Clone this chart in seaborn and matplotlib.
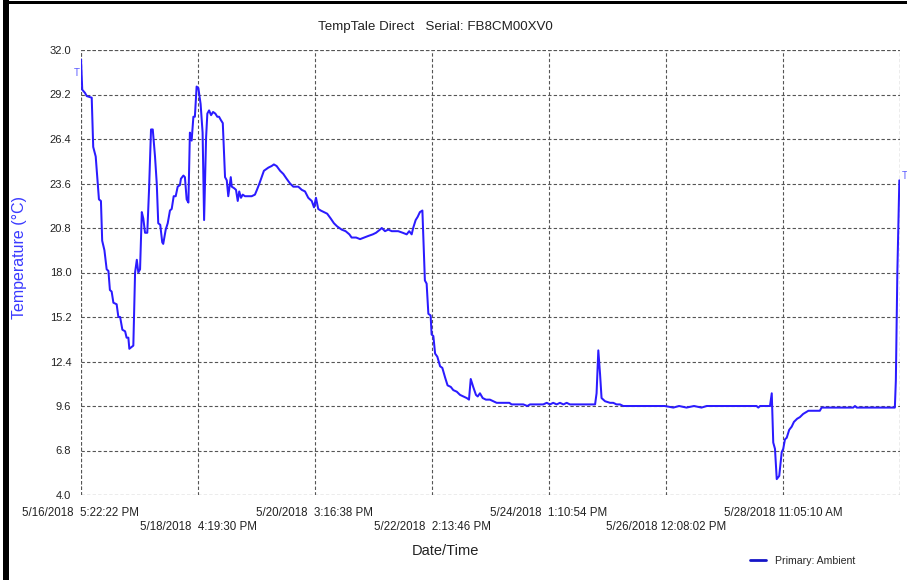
import matplotlib
matplotlib.use("Agg")
import matplotlib.pyplot as plt
import matplotlib.patches as mpatches
import seaborn as sns
import pandas as pd

# ---- data (hours since 5/16/2018 5:22:22 PM, temperature in °C) ----
hours = [0.0, 0.5, 1.6, 2.3, 4.3, 4.9, 5.9, 7.2, 8.0, 8.5, 9.4, 10.3, 11.0, 11.6, 12.3, 13.0, 14.3, 15.0, 15.7,
         16.6, 17.7, 18.3, 19.0, 19.4, 21.0, 21.7, 22.4, 23.0, 23.7, 24.4, 25.0, 25.7, 26.6, 27.3, 28.1, 28.8,
         29.7, 30.4, 31.0, 31.8, 32.6, 33.0, 34.0, 34.8, 35.7, 36.4, 37.2, 38.0, 38.8, 39.7, 40.1, 41.1, 41.7,
         42.4, 43.1, 43.7, 44.4, 45.1, 45.7, 46.4, 47.1, 48.0, 48.8, 49.4, 50.2, 50.7, 51.4, 52.2, 53.0, 53.9,
         54.7, 55.4, 56.1, 56.9, 57.8, 58.5, 59.1, 60.1, 60.5, 61.5, 62.2, 62.9, 63.5, 64.2, 64.9, 65.8, 67.1,
         68.5, 69.8, 70.6, 71.6, 72.5, 73.4, 75.2, 76.5, 77.4, 78.5, 79.9, 81.2, 82.5, 83.9, 85.2, 87.2, 88.6,
         89.9, 91.2, 92.6, 93.5, 94.3, 95.2, 96.2, 97.5, 98.8, 100.2, 101.5, 102.8, 104.6, 106.2, 107.7, 108.6,
         110.4, 112.0, 113.6, 115.3, 117.1, 118.4, 120.0, 120.7, 122.0, 123.3, 124.7, 126.0, 127.3, 129.1,
         130.7, 131.7, 132.7, 133.3, 134.3, 135.1, 136.0, 137.0, 138.0, 138.7, 139.4, 140.3, 140.7, 141.4,
         142.1, 143.0, 144.1, 145.0, 146.1, 147.1, 148.4, 149.4, 150.8, 152.1, 153.4, 154.8, 155.7, 156.4,
         157.4, 158.5, 159.2, 160.1, 161.2, 162.5, 164.1, 165.5, 166.8, 169.5, 171.9, 172.8, 177.5, 179.1,
         180.2, 185.5, 186.9, 188.2, 189.5, 190.9, 192.2, 193.6, 194.9, 196.2, 206.3, 206.9, 207.6, 208.3,
         208.9, 210.3, 212.3, 213.6, 214.9, 216.3, 217.6, 219.6, 234.3, 237.7, 240.0, 243.0, 246.0, 249.0,
         251.1, 271.1, 271.8, 272.5, 276.5, 277.2, 277.8, 278.5, 279.2, 280.2, 281.2, 281.8, 282.5, 283.2,
         284.2, 285.2, 286.1, 287.4, 288.5, 289.8, 291.9, 293.9, 296.5, 297.2, 309.9, 310.6, 311.3, 326.6,
         327.0, 327.6, 328.4]
temps = [31.4, 29.5, 29.3, 29.1, 29.0, 25.9, 25.3, 22.6, 22.5, 20.0, 19.4, 18.2, 18.1, 16.9, 16.8, 16.1, 16.0, 15.2, 15.2,
         14.4, 14.3, 13.9, 13.9, 13.2, 13.4, 18.0, 18.8, 18.0, 18.2, 21.8, 21.4, 20.5, 20.5, 23.2, 27.0, 27.0,
         25.3, 23.6, 21.1, 21.0, 19.9, 19.8, 20.7, 21.1, 21.9, 22.0, 22.8, 22.8, 23.4, 23.5, 23.9, 24.1, 24.0,
         22.6, 22.4, 26.8, 26.3, 27.8, 27.8, 29.7, 29.6, 28.6, 26.8, 21.3, 26.5, 28.0, 28.2, 27.9, 28.1, 28.0,
         27.8, 27.8, 27.6, 27.4, 24.0, 23.8, 22.8, 24.0, 23.4, 23.3, 23.2, 22.5, 23.1, 22.7, 22.9, 22.8, 22.8,
         22.8, 22.9, 23.2, 23.6, 24.0, 24.4, 24.6, 24.7, 24.8, 24.7, 24.4, 24.2, 23.9, 23.6, 23.4, 23.4, 23.2,
         23.1, 22.7, 22.5, 22.1, 22.7, 22.0, 21.9, 21.8, 21.7, 21.4, 21.1, 20.9, 20.7, 20.6, 20.4, 20.2,
         20.2, 20.1, 20.2, 20.3, 20.4, 20.5, 20.7, 20.8, 20.6, 20.7, 20.6, 20.6, 20.6, 20.5,
         20.4, 20.6, 20.4, 20.8, 21.3, 21.5, 21.8, 21.9, 17.5, 17.3, 15.4, 15.3, 14.1, 14.0,
         12.9, 12.7, 12.1, 12.0, 11.4, 10.9, 10.8, 10.6, 10.5, 10.3, 10.2, 10.1, 10.0, 11.3,
         10.8, 10.3, 10.2, 10.4, 10.1, 10.0, 10.0, 9.9, 9.8, 9.8, 9.8, 9.7, 9.7, 9.6,
         9.7, 9.7, 9.8, 9.7, 9.8, 9.7, 9.8, 9.7, 9.8, 9.7, 9.7, 10.4, 13.1, 11.6,
         10.1, 9.9, 9.8, 9.8, 9.7, 9.7, 9.6, 9.6, 9.6, 9.5, 9.6, 9.5, 9.6, 9.5,
         9.6, 9.6, 9.5, 9.6, 9.6, 10.4, 7.3, 6.9, 5.0, 5.2, 6.7, 6.9, 7.5, 7.6,
         8.1, 8.3, 8.6, 8.8, 8.9, 9.1, 9.3, 9.3, 9.3, 9.5, 9.5, 9.6, 9.5, 9.5,
         11.2, 18.0, 23.8]

tick_labels = ["5/16/2018  5:22:22 PM", "5/18/2018  4:19:30 PM", "5/20/2018  3:16:38 PM",
               "5/22/2018  2:13:46 PM", "5/24/2018  1:10:54 PM", "5/26/2018 12:08:02 PM",
               "5/28/2018 11:05:10 AM", ""]
tick_step_hours = 46 + 57 / 60 + 8 / 3600
y_ticks = [4.0, 6.8, 9.6, 12.4, 15.2, 18.0, 20.8, 23.6, 26.4, 29.2, 32.0]

df = pd.DataFrame({"Hours": hours, "Temperature": temps})

sns.set_style("white")
plt.rcParams["font.family"] = ["Liberation Sans", "DejaVu Sans"]

fig = plt.figure(figsize=(9.07, 5.8), dpi=100)
ax = fig.add_axes([81 / 907, 1 - 495 / 580, 819 / 907, 445 / 580])

line_color = "#2b1bff"
sns.lineplot(data=df, x="Hours", y="Temperature", ax=ax, color=line_color, lw=1.45, legend=False)

x_max = tick_step_hours * 7
ax.set_xlim(0, x_max)
ax.set_ylim(4.0, 32.0)

# grid / ticks
tick_pos = [i * tick_step_hours for i in range(8)]
major_idx = [0, 2, 4, 6, 7]
minor_idx = [1, 3, 5]
ax.set_xticks([tick_pos[i] for i in major_idx])
ax.set_xticklabels([tick_labels[i] for i in major_idx])
ax.set_xticks([tick_pos[i] for i in minor_idx], minor=True)
ax.set_xticklabels([tick_labels[i] for i in minor_idx], minor=True)
ax.set_yticks(y_ticks)
ax.set_yticklabels([f"{v:.1f}" for v in y_ticks])
ax.tick_params(axis="x", which="major", length=0, pad=9, labelsize=8.3, colors="#222222")
ax.tick_params(axis="x", which="minor", length=0, pad=19, labelsize=8.3, colors="#222222")
ax.tick_params(axis="y", length=0, pad=7, labelsize=8, colors="#222222")

grid_kw = dict(color="#555555", linestyle=(0, (3, 2)), linewidth=0.8)
ax.grid(True, which="major", axis="both", **grid_kw)
ax.grid(True, which="minor", axis="x", **grid_kw)
ax.set_axisbelow(True)
for s in ax.spines.values():
    s.set_visible(False)
ax.axhline(32.0, **grid_kw, zorder=0.5)
ax.axhline(4.0, **grid_kw, zorder=0.5)
ax.axvline(0, **grid_kw, zorder=0.5)
ax.axvline(x_max, **grid_kw, zorder=0.5)

ax.set_xlabel("Date/Time", fontsize=10.5, color="#222222")
ax.xaxis.set_label_coords((445 - 81) / 819, (495 - 551) / 445)
ax.xaxis.label.set_va("center")
ax.set_ylabel("Temperature (°C)", fontsize=11.5, color="#3a3aff")
ax.yaxis.set_label_coords((19 - 81) / 819, (495 - 258) / 445)
ax.yaxis.label.set_va("center")

# trigger markers
ax.annotate("T", xy=(hours[0], temps[0]), xytext=(-3, -10), textcoords="offset points",
            ha="center", va="center", fontsize=7, color="#5a5aff")
ax.annotate("T", xy=(hours[-1], temps[-1]), xytext=(4, 3), textcoords="offset points",
            ha="center", va="center", fontsize=7, color="#5a5aff")

fig.text(435 / 907, 1 - 27 / 580, "TempTale Direct   Serial: FB8CM00XV0", ha="center", va="center",
         fontsize=9.6, color="#222222")

# legend
handle = plt.Line2D([], [], color="#1515c8", lw=2)
fig.legend([handle], ["Primary: Ambient"], loc="center left", bbox_to_anchor=(740 / 907, 1 - 561 / 580),
           frameon=False, fontsize=7.6, handlelength=1.6, handletextpad=0.8)

# outer frame (left and top black borders)
fig.patches.append(mpatches.Rectangle((3 / 907, 0), 6 / 907, 1, transform=fig.transFigure,
                                      facecolor="black", edgecolor="none"))
fig.patches.append(mpatches.Rectangle((3 / 907, 1 - 4 / 580), 1, 3 / 580, transform=fig.transFigure,
                                      facecolor="black", edgecolor="none"))

fig.savefig("out.png", dpi=100)
